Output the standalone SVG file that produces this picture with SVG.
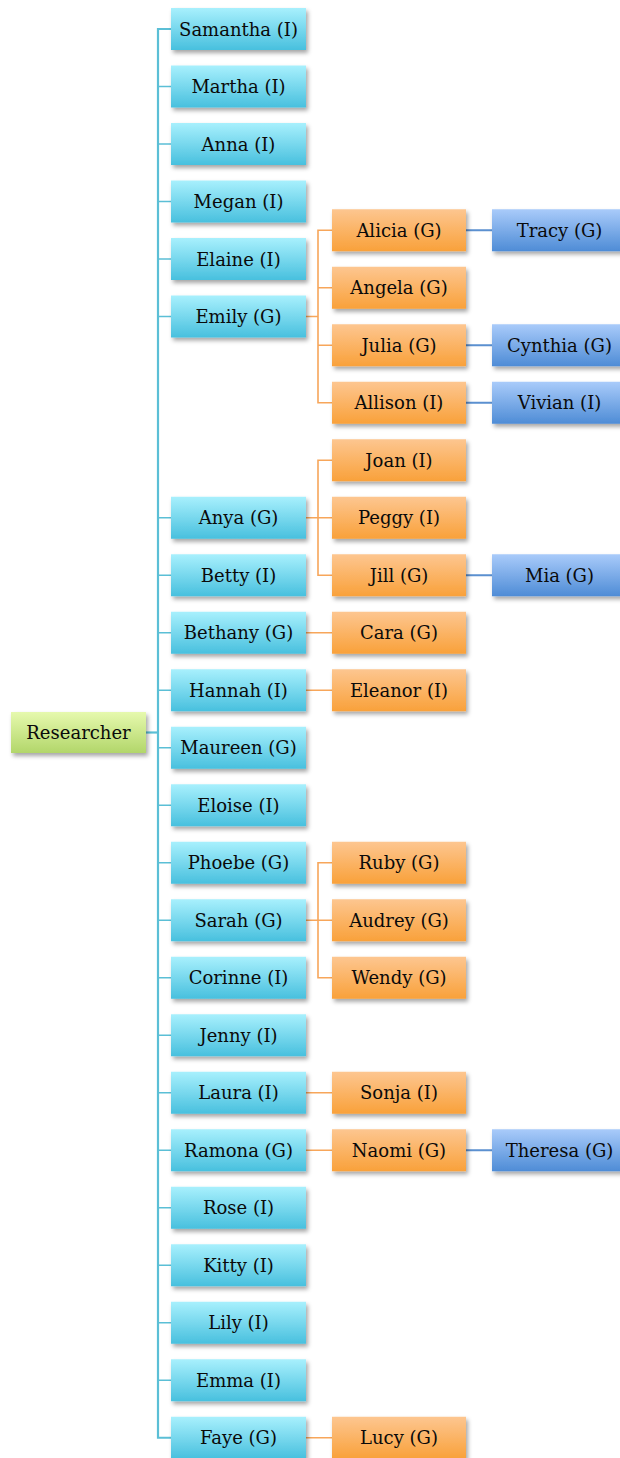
<svg xmlns="http://www.w3.org/2000/svg" width="620" height="1458" viewBox="0 0 620 1458">
<style>
text{font-family:"DejaVu Serif","Liberation Serif",serif;font-size:18px;fill:#0a0a0a;text-anchor:middle}
.c{fill:url(#gc)}.o{fill:url(#go)}.b{fill:url(#gb)}.g{fill:url(#gg)}
rect{filter:url(#sh)}
.lc{stroke:#5bbfd6;fill:none;stroke-width:1.6}
.lt{stroke:#5bbfd6;fill:none;stroke-width:2.2}
.lo{stroke:#f7a65a;fill:none;stroke-width:1.6}
.lb{stroke:#5b90d0;fill:none;stroke-width:1.8}
</style>
<defs>
<linearGradient id="gc" x1="0" y1="0" x2="0" y2="1"><stop offset="0" stop-color="#a8f0fd"/><stop offset="1" stop-color="#48c0de"/></linearGradient>
<linearGradient id="go" x1="0" y1="0" x2="0" y2="1"><stop offset="0" stop-color="#fdc690"/><stop offset="1" stop-color="#f9a13a"/></linearGradient>
<linearGradient id="gb" x1="0" y1="0" x2="0" y2="1"><stop offset="0" stop-color="#a9cbfa"/><stop offset="1" stop-color="#4e8cd6"/></linearGradient>
<linearGradient id="gg" x1="0" y1="0" x2="0" y2="1"><stop offset="0" stop-color="#e6f9ae"/><stop offset="1" stop-color="#b2d66a"/></linearGradient>
<filter id="sh" x="-10%" y="-20%" width="130%" height="160%"><feDropShadow dx="2" dy="3" stdDeviation="2" flood-color="#000" flood-opacity="0.35"/></filter>
</defs>
<g id="connectors">
<path class="lt" d="M146,732.5H158"/>
<path class="lt" d="M171,29H158V1437.75H171"/>
<path class="lc" d="M158,86.5H171M158,144H171M158,201.5H171M158,259H171M158,316.5H171M158,517.75H171M158,575.25H171M158,632.75H171M158,690.25H171M158,747.75H171M158,805.25H171M158,862.75H171M158,920.25H171M158,977.75H171M158,1035.25H171M158,1092.75H171M158,1150.25H171M158,1207.75H171M158,1265.25H171M158,1322.75H171M158,1380.25H171"/>
<path class="lo" d="M306,316.5H318M332,230.25H318V402.75H332M318,287.75H332M318,345.25H332"/>
<path class="lo" d="M306,517.75H332M332,460.25H318V575.25H332"/>
<path class="lo" d="M306,632.75H332M306,690.25H332"/>
<path class="lo" d="M306,920.25H318M332,862.75H318V977.75H332M318,920.25H332"/>
<path class="lo" d="M306,1092.75H332M306,1150.25H332M306,1437.75H332"/>
<path class="lb" d="M466,230.25H492M466,345.25H492M466,402.75H492M466,575.25H492M466,1150.25H492"/>
</g>
<g id="researcher" transform="translate(11,712)"><rect class="g" width="135" height="41"/><text x="67.5" y="27">Researcher</text></g>
<g id="samantha" transform="translate(171,8)"><rect class="c" width="135" height="42"/><text x="67.5" y="27.5">Samantha (I)</text></g>
<g id="martha" transform="translate(171,65.5)"><rect class="c" width="135" height="42"/><text x="67.5" y="27.5">Martha (I)</text></g>
<g id="anna" transform="translate(171,123)"><rect class="c" width="135" height="42"/><text x="67.5" y="27.5">Anna (I)</text></g>
<g id="megan" transform="translate(171,180.5)"><rect class="c" width="135" height="42"/><text x="67.5" y="27.5">Megan (I)</text></g>
<g id="elaine" transform="translate(171,238)"><rect class="c" width="135" height="42"/><text x="67.5" y="27.5">Elaine (I)</text></g>
<g id="emily" transform="translate(171,295.5)"><rect class="c" width="135" height="42"/><text x="67.5" y="27.5">Emily (G)</text></g>
<g id="anya" transform="translate(171,496.75)"><rect class="c" width="135" height="42"/><text x="67.5" y="27.5">Anya (G)</text></g>
<g id="betty" transform="translate(171,554.25)"><rect class="c" width="135" height="42"/><text x="67.5" y="27.5">Betty (I)</text></g>
<g id="bethany" transform="translate(171,611.75)"><rect class="c" width="135" height="42"/><text x="67.5" y="27.5">Bethany (G)</text></g>
<g id="hannah" transform="translate(171,669.25)"><rect class="c" width="135" height="42"/><text x="67.5" y="27.5">Hannah (I)</text></g>
<g id="maureen" transform="translate(171,726.75)"><rect class="c" width="135" height="42"/><text x="67.5" y="27.5">Maureen (G)</text></g>
<g id="eloise" transform="translate(171,784.25)"><rect class="c" width="135" height="42"/><text x="67.5" y="27.5">Eloise (I)</text></g>
<g id="phoebe" transform="translate(171,841.75)"><rect class="c" width="135" height="42"/><text x="67.5" y="27.5">Phoebe (G)</text></g>
<g id="sarah" transform="translate(171,899.25)"><rect class="c" width="135" height="42"/><text x="67.5" y="27.5">Sarah (G)</text></g>
<g id="corinne" transform="translate(171,956.75)"><rect class="c" width="135" height="42"/><text x="67.5" y="27.5">Corinne (I)</text></g>
<g id="jenny" transform="translate(171,1014.25)"><rect class="c" width="135" height="42"/><text x="67.5" y="27.5">Jenny (I)</text></g>
<g id="laura" transform="translate(171,1071.75)"><rect class="c" width="135" height="42"/><text x="67.5" y="27.5">Laura (I)</text></g>
<g id="ramona" transform="translate(171,1129.25)"><rect class="c" width="135" height="42"/><text x="67.5" y="27.5">Ramona (G)</text></g>
<g id="rose" transform="translate(171,1186.75)"><rect class="c" width="135" height="42"/><text x="67.5" y="27.5">Rose (I)</text></g>
<g id="kitty" transform="translate(171,1244.25)"><rect class="c" width="135" height="42"/><text x="67.5" y="27.5">Kitty (I)</text></g>
<g id="lily" transform="translate(171,1301.75)"><rect class="c" width="135" height="42"/><text x="67.5" y="27.5">Lily (I)</text></g>
<g id="emma" transform="translate(171,1359.25)"><rect class="c" width="135" height="42"/><text x="67.5" y="27.5">Emma (I)</text></g>
<g id="faye" transform="translate(171,1416.75)"><rect class="c" width="135" height="42"/><text x="67.5" y="27.5">Faye (G)</text></g>
<g id="alicia" transform="translate(332,209.25)"><rect class="o" width="134" height="42"/><text x="67" y="27.5">Alicia (G)</text></g>
<g id="angela" transform="translate(332,266.75)"><rect class="o" width="134" height="42"/><text x="67" y="27.5">Angela (G)</text></g>
<g id="julia" transform="translate(332,324.25)"><rect class="o" width="134" height="42"/><text x="67" y="27.5">Julia (G)</text></g>
<g id="allison" transform="translate(332,381.75)"><rect class="o" width="134" height="42"/><text x="67" y="27.5">Allison (I)</text></g>
<g id="joan" transform="translate(332,439.25)"><rect class="o" width="134" height="42"/><text x="67" y="27.5">Joan (I)</text></g>
<g id="peggy" transform="translate(332,496.75)"><rect class="o" width="134" height="42"/><text x="67" y="27.5">Peggy (I)</text></g>
<g id="jill" transform="translate(332,554.25)"><rect class="o" width="134" height="42"/><text x="67" y="27.5">Jill (G)</text></g>
<g id="cara" transform="translate(332,611.75)"><rect class="o" width="134" height="42"/><text x="67" y="27.5">Cara (G)</text></g>
<g id="eleanor" transform="translate(332,669.25)"><rect class="o" width="134" height="42"/><text x="67" y="27.5">Eleanor (I)</text></g>
<g id="ruby" transform="translate(332,841.75)"><rect class="o" width="134" height="42"/><text x="67" y="27.5">Ruby (G)</text></g>
<g id="audrey" transform="translate(332,899.25)"><rect class="o" width="134" height="42"/><text x="67" y="27.5">Audrey (G)</text></g>
<g id="wendy" transform="translate(332,956.75)"><rect class="o" width="134" height="42"/><text x="67" y="27.5">Wendy (G)</text></g>
<g id="sonja" transform="translate(332,1071.75)"><rect class="o" width="134" height="42"/><text x="67" y="27.5">Sonja (I)</text></g>
<g id="naomi" transform="translate(332,1129.25)"><rect class="o" width="134" height="42"/><text x="67" y="27.5">Naomi (G)</text></g>
<g id="lucy" transform="translate(332,1416.75)"><rect class="o" width="134" height="42"/><text x="67" y="27.5">Lucy (G)</text></g>
<g id="tracy" transform="translate(492,209.25)"><rect class="b" width="135" height="42"/><text x="67.5" y="27.5">Tracy (G)</text></g>
<g id="cynthia" transform="translate(492,324.25)"><rect class="b" width="135" height="42"/><text x="67.5" y="27.5">Cynthia (G)</text></g>
<g id="vivian" transform="translate(492,381.75)"><rect class="b" width="135" height="42"/><text x="67.5" y="27.5">Vivian (I)</text></g>
<g id="mia" transform="translate(492,554.25)"><rect class="b" width="135" height="42"/><text x="67.5" y="27.5">Mia (G)</text></g>
<g id="theresa" transform="translate(492,1129.25)"><rect class="b" width="135" height="42"/><text x="67.5" y="27.5">Theresa (G)</text></g>
</svg>
